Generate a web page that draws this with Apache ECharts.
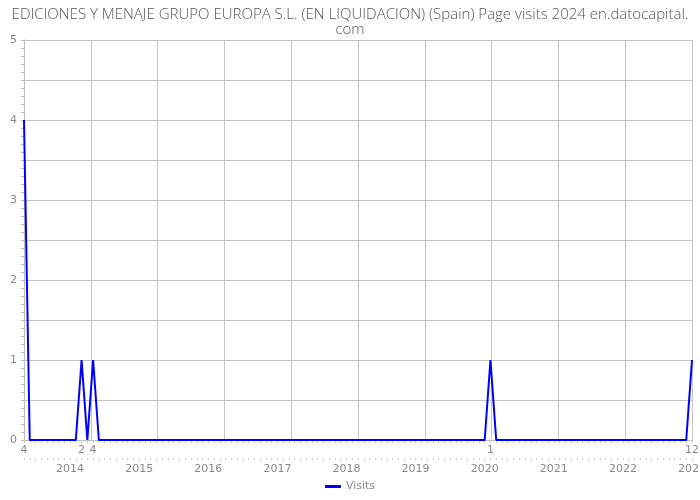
<!DOCTYPE html>
<html>
<head>
<meta charset="utf-8">
<script src="https://cdn.jsdelivr.net/npm/echarts@6/dist/echarts.min.js"></script>
<style>html,body{margin:0;padding:0;background:#fff}#c{width:700px;height:500px}</style>
</head>
<body>
<div id="c"></div>
<script>
// Monthly categories: April 2013 .. December 2022
var startYear = 2013, startMonth = 4, monthCount = 117;
var categories = [];
for (var i = 0; i < monthCount; i++) {
  var m = startMonth - 1 + i;
  categories.push((startYear + Math.floor(m / 12)) + '-' + ((m % 12) + 1));
}
// Visits per month
var visits = [
  4,0,0,0,0,0,0,0,0,            // 2013 Apr-Dec
  0,1,0,1,0,0,0,0,0,0,0,0,      // 2014
  0,0,0,0,0,0,0,0,0,0,0,0,      // 2015
  0,0,0,0,0,0,0,0,0,0,0,0,      // 2016
  0,0,0,0,0,0,0,0,0,0,0,0,      // 2017
  0,0,0,0,0,0,0,0,0,0,0,0,      // 2018
  0,0,0,0,0,0,0,0,0,0,0,0,      // 2019
  1,0,0,0,0,0,0,0,0,0,0,0,      // 2020
  0,0,0,0,0,0,0,0,0,0,0,0,      // 2021
  0,0,0,0,0,0,0,0,0,0,0,1       // 2022
];
var yTicks = [0, 1, 2, 3, 4, 5];
var titleText = 'EDICIONES Y MENAJE GRUPO EUROPA S.L. (EN LIQUIDACION) (Spain) Page visits 2024 en.datocapital.\ncom';

var labelColor = '#888';
var gridColor = '#c4c4c4';
var chart = echarts.init(document.getElementById('c'), null, {renderer: 'canvas'});
chart.setOption({
  animation: false,
  title: {
    text: titleText, left: 'center', top: 2,
    textStyle: {fontFamily: 'Open Sans', fontSize: 15, fontWeight: 300, color: '#555', lineHeight: 15}
  },
  legend: {
    bottom: 3, left: 'center', itemWidth: 16, itemHeight: 3,
    textStyle: {fontFamily: 'DejaVu Sans', fontSize: 11, color: labelColor},
    data: [{name: 'Visits', icon: 'rect'}]
  },
  grid: {left: 24, right: 8, top: 40, bottom: 60, containLabel: false, outerBoundsMode: 'none'},
  xAxis: [
    {
      type: 'category', data: categories, boundaryGap: false,
      axisLine: {lineStyle: {color: '#bbb'}},
      axisTick: {show: true, interval: 0, length: 3, lineStyle: {color: '#ccc'}},
      axisLabel: {
        interval: function (idx) { return visits[idx] !== 0; },
        formatter: function (v) { return v.split('-')[1]; },
        color: labelColor, fontFamily: 'DejaVu Sans', fontSize: 11, margin: 5
      },
      splitLine: {show: false}
    },
    {
      type: 'category', data: categories, boundaryGap: false, position: 'bottom', offset: 18,
      axisLine: {show: false},
      axisTick: {show: true, interval: 0, length: 2, lineStyle: {color: '#ccc'}},
      axisLabel: {
        interval: function (idx) { return categories[idx].split('-')[1] === '12'; },
        formatter: function (v) { return String(Number(v.split('-')[0]) + 1); },
        color: labelColor, fontFamily: 'DejaVu Sans', fontSize: 11, margin: 6
      },
      splitLine: {show: false}
    },
    {
      type: 'value', min: 0, max: 10, interval: 1, position: 'top',
      axisLine: {show: false}, axisTick: {show: false}, axisLabel: {show: false},
      splitLine: {show: true, lineStyle: {color: gridColor, width: 1}}
    }
  ],
  yAxis: {
    type: 'value', min: 0, max: 5, interval: 0.5,
    axisLine: {show: true, lineStyle: {color: '#bbb'}},
    axisTick: {show: true, length: 3, lineStyle: {color: '#bbb'}},
    minorTick: {show: true, splitNumber: 5, length: 3, lineStyle: {color: '#bbb'}},
    axisLabel: {
      formatter: function (v) { return yTicks.indexOf(v) >= 0 ? String(v) : ''; },
      color: labelColor, fontFamily: 'DejaVu Sans', fontSize: 11, margin: 7
    },
    splitLine: {show: true, lineStyle: {color: gridColor, width: 1}}
  },
  series: [{
    name: 'Visits', type: 'line', xAxisIndex: 0, data: visits,
    symbol: 'none', showSymbol: false,
    lineStyle: {color: '#0000ff', width: 2},
    itemStyle: {color: '#0000ff'}
  }]
});
</script>
</body>
</html>
